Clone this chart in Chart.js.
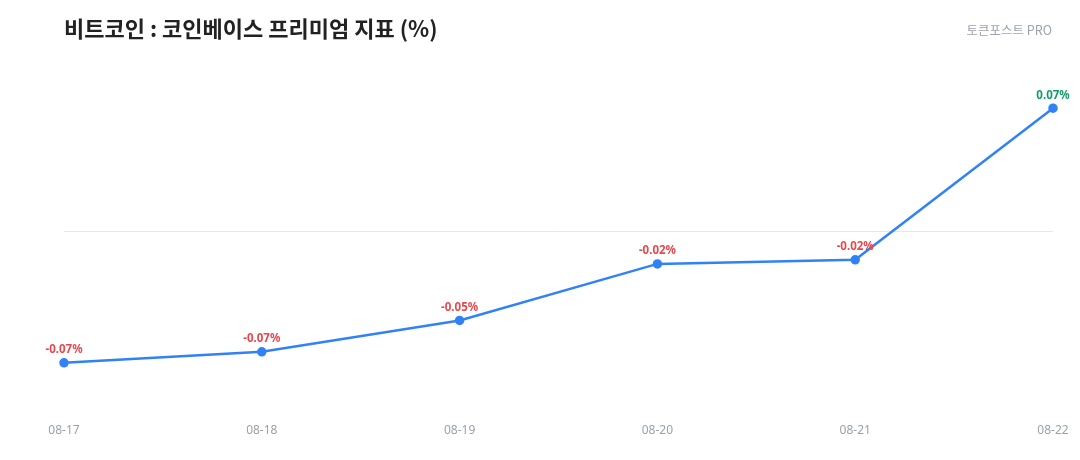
<!DOCTYPE html>
<html>
<head>
<meta charset="utf-8">
<script src="https://cdn.jsdelivr.net/npm/chart.js@4"></script>
<style>
  html, body { margin: 0; padding: 0; background: #fff; }
  #wrap { position: relative; width: 1080px; height: 460px; font-family: "Noto Sans CJK KR", "Noto Sans", sans-serif; }
  #title { position: absolute; left: 64px; top: 11px; font-size: 22px; font-weight: 700; color: #222; }
  #brand { position: absolute; right: 28px; top: 20px; font-size: 12.5px; color: #9ca3af; }
  canvas { position: absolute; left: 0; top: 0; }
</style>
</head>
<body>
<div id="wrap">
  <canvas id="premiumChart" width="1080" height="460"></canvas>
  <div id="title">비트코인 : 코인베이스 프리미엄 지표 (%)</div>
  <div id="brand">토큰포스트 PRO</div>
</div>
<script>
// 코인베이스 프리미엄 (%)
const dates = ['08-17', '08-18', '08-19', '08-20', '08-21', '08-22'];
const premium = [-0.0746, -0.0683, -0.0505, -0.0184, -0.0161, 0.0700];

// 각 점 위에 값 표시
const valueLabels = {
    id: 'valueLabels',
    afterDatasetsDraw(chart) {
        const ctx = chart.ctx;
        const meta = chart.getDatasetMeta(0);
        ctx.save();
        ctx.font = 'bold 11.5px "Noto Sans", sans-serif';
        ctx.textAlign = 'center';
        ctx.textBaseline = 'bottom';
        meta.data.forEach((pt, i) => {
            const v = premium[i];
            ctx.fillStyle = v >= 0 ? '#169b6b' : '#e5484d';
            ctx.fillText(v.toFixed(2) + '%', pt.x, pt.y - 7);
        });
        ctx.restore();
    }
};

new Chart(document.getElementById('premiumChart'), {
    type: 'line',
    data: {
        labels: dates,
        datasets: [{
            data: premium,
            borderColor: '#3182f6',
            backgroundColor: '#3182f6',
            borderWidth: 2.5,
            pointRadius: 3.5,
            pointHoverRadius: 3.5,
            tension: 0,
            fill: false
        }]
    },
    options: {
        responsive: false,
        animation: false,
        devicePixelRatio: 1,
        layout: { padding: { left: 64, right: 27, top: 73, bottom: 14 } },
        plugins: { legend: { display: false }, tooltip: { enabled: false } },
        scales: {
            x: {
                offset: false,
                grid: { display: false },
                border: { display: false },
                ticks: { color: '#9aa1ab', font: { size: 12, family: '"Noto Sans", sans-serif' }, padding: 8, maxRotation: 0 }
            },
            y: {
                min: -0.1,
                max: 0.09,
                border: { display: false },
                ticks: { display: false, stepSize: 0.01 },
                grid: {
                    drawTicks: false,
                    color: c => Math.abs(c.tick.value) < 1e-9 ? '#e5e7eb' : 'transparent'
                }
            }
        }
    },
    plugins: [valueLabels]
});
</script>
</body>
</html>
